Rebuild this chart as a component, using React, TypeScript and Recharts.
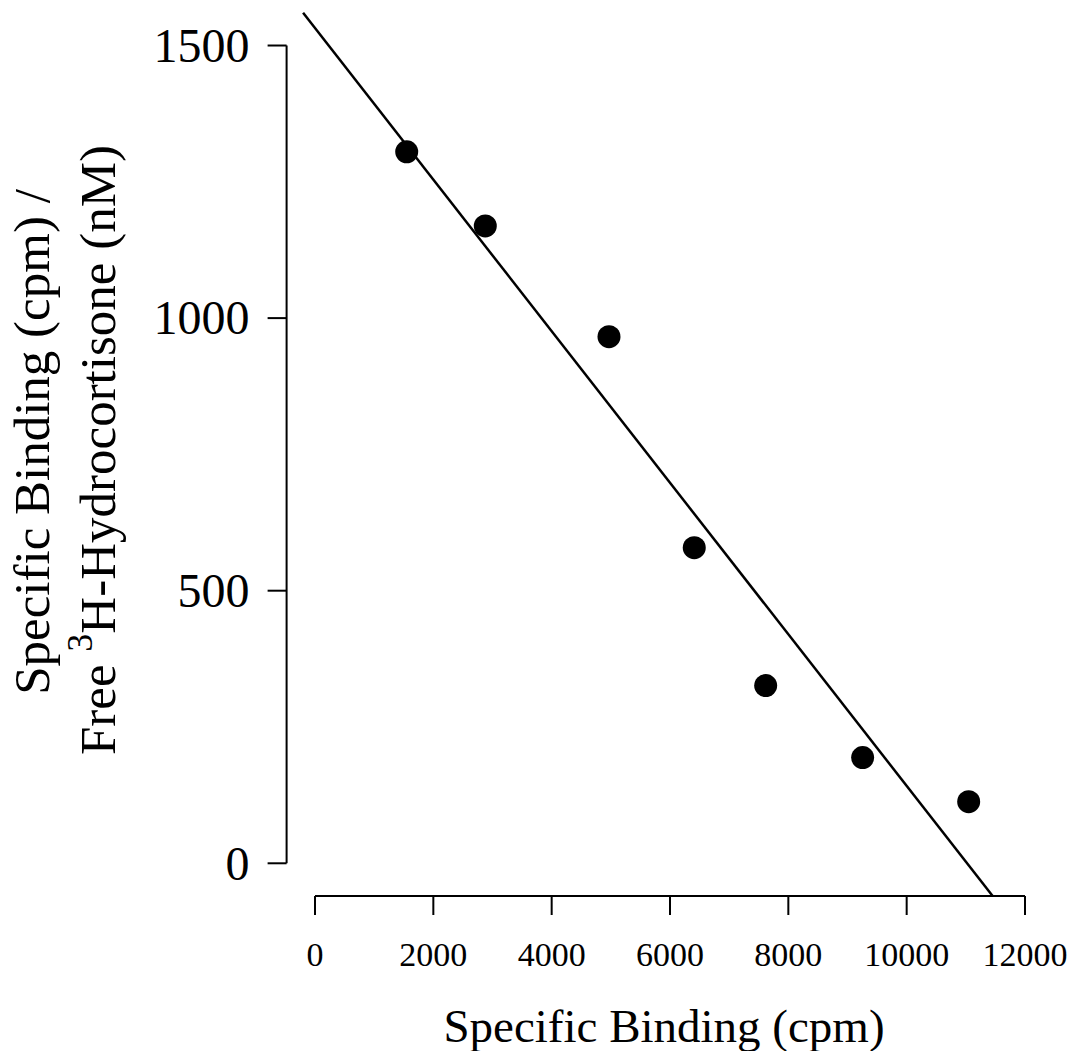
import React from 'react';
import { ScatterChart, Scatter, XAxis, YAxis, ReferenceLine, Label } from 'recharts';

// Scatchard plot data
const bindingCpm = [1550, 2878, 4969, 6410, 7617, 9256, 11048];
const boundOverFree = [1305, 1169, 966, 579, 326, 194, 113];
const xTicks = [0, 2000, 4000, 6000, 8000, 10000, 12000];
const yTicks = [0, 500, 1000, 1500];
const xDomain: [number, number] = [-480, 12480];
const yDomain: [number, number] = [-60, 1560];
const fitIntercept = 1532;
const fitSlope = -0.139;

const data = bindingCpm.map((x, i) => ({ x, y: boundOverFree[i] }));
const fitStart = { x: (yDomain[1] - fitIntercept) / fitSlope, y: yDomain[1] };
const fitEnd = { x: (yDomain[0] - fitIntercept) / fitSlope, y: yDomain[0] };

const FONT = '"Liberation Serif", "Times New Roman", serif';

const XTick = (props: any) => {
  const { x, y, payload } = props;
  return (
    <text x={x} y={y} dy="0.71em" textAnchor="middle" fontFamily={FONT} fontSize={34} fill="#000">
      {payload.value}
    </text>
  );
};

const YTick = (props: any) => {
  const { x, y, payload } = props;
  return (
    <text x={x} y={y} dy="0.34em" textAnchor="end" fontFamily={FONT} fontSize={48} fill="#000">
      {payload.value}
    </text>
  );
};

const XTitle = (props: any) => {
  const vb = props.viewBox || {};
  const cx = (vb.x ?? 0) + (vb.width ?? 0) / 2 - 6;
  return (
    <text x={cx} y={1042} textAnchor="middle" fontFamily={FONT} fontSize={47} fill="#000">
      Specific Binding (cpm)
    </text>
  );
};

const YTitle = () => {
  return (
    <g fontFamily={FONT} fontSize={51} fill="#000">
      <text x={49} y={442} transform="rotate(-90 49 442)" textAnchor="middle">
        Specific Binding (cpm) /
      </text>
      <text x={115} y={450} transform="rotate(-90 115 450)" textAnchor="middle">
        Free <tspan dy={-23} fontSize={36}>3</tspan>
        <tspan dy={23}>H-Hydrocortisone (nM)</tspan>
      </text>
    </g>
  );
};

const Dot = (props: any) => <circle cx={props.cx} cy={props.cy} r={11.5} fill="#000" />;

export default function App() {
  return (
    <div style={{ width: 1077, height: 1059, margin: -8, background: '#fff' }}>
      <ScatterChart
        width={1077}
        height={1059}
        margin={{ top: 12.8, right: 23.6, left: 206.6, bottom: 83 }}
      >
        <XAxis
          type="number"
          dataKey="x"
          domain={xDomain}
          ticks={xTicks}
          axisLine={false}
          tickLine={{ stroke: '#000', strokeWidth: 2 }}
          tickSize={19}
          tickMargin={27}
          tick={<XTick />}
          height={80}
          interval={0}
          allowDataOverflow
        >
          <Label content={<XTitle />} />
        </XAxis>
        <YAxis
          type="number"
          dataKey="y"
          domain={yDomain}
          ticks={yTicks}
          axisLine={false}
          tickLine={{ stroke: '#000', strokeWidth: 2 }}
          tickSize={19}
          tickMargin={18}
          tick={<YTick />}
          width={80}
          interval={0}
          allowDataOverflow
        >
          <Label content={<YTitle />} />
        </YAxis>
        <ReferenceLine
          segment={[{ x: xTicks[0], y: yDomain[0] }, { x: xTicks[xTicks.length - 1], y: yDomain[0] }]}
          stroke="#000"
          strokeWidth={2}
          ifOverflow="visible"
        />
        <ReferenceLine
          segment={[{ x: xDomain[0], y: yTicks[0] }, { x: xDomain[0], y: yTicks[yTicks.length - 1] }]}
          stroke="#000"
          strokeWidth={2}
          ifOverflow="visible"
        />
        <ReferenceLine
          segment={[fitStart, fitEnd]}
          stroke="#000"
          strokeWidth={2.5}
          ifOverflow="visible"
        />
        <Scatter data={data} shape={<Dot />} isAnimationActive={false} />
      </ScatterChart>
    </div>
  );
}
